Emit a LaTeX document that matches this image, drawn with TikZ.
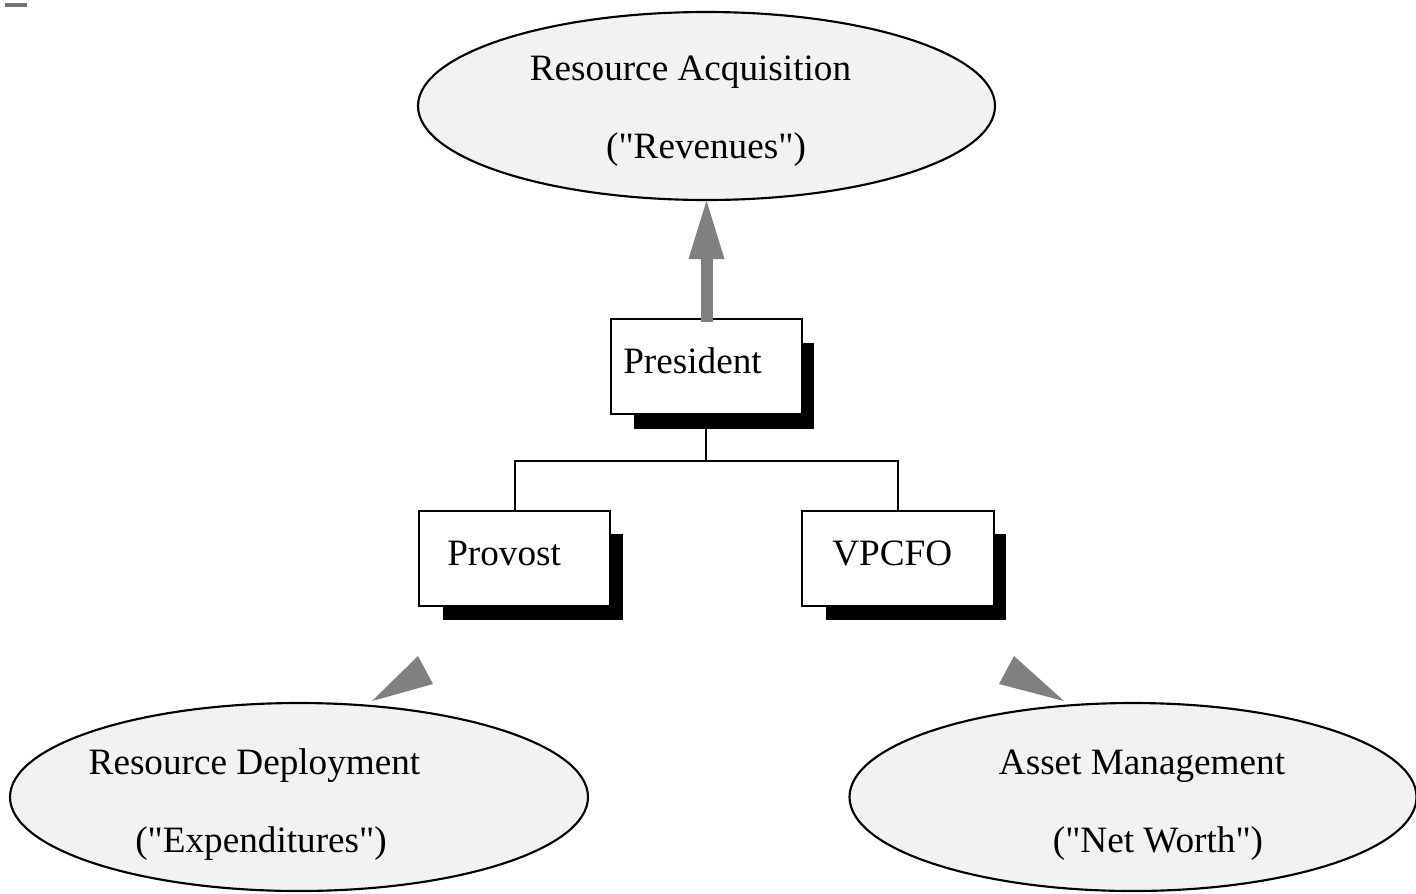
\documentclass[tikz,border=0pt]{standalone}
\usepackage{fontspec}
\setmainfont{Liberation Serif}
\usetikzlibrary{shapes.geometric,arrows.meta}
\begin{document}
\begin{tikzpicture}[x=0.75pt,y=-0.75pt,
  oval/.style={ellipse,draw,line width=1.6pt,fill=black!5,inner sep=0pt},
  box/.style={rectangle,draw,line width=1.5pt,fill=white,inner sep=0pt},
  shadowbox/.style={rectangle,fill=black,inner sep=0pt},
  lbl/.style={anchor=base,inner sep=0pt,font=\fontsize{27.9}{33}\selectfont},
  lblw/.style={anchor=base west,inner sep=0pt,font=\fontsize{27.9}{33}\selectfont},
  tree/.style={line width=1.5pt},
  bigarrow/.style={draw=black!50,line width=9pt,-{Triangle[length=46.5pt,width=24pt]}},
  pointer/.style={fill=black!50}]
\useasboundingbox (0,0) rectangle (1416,893);
\fill[black!55] (5,3) rectangle (27,7);
% ellipses
\node[oval,minimum width=432.75pt,minimum height=141pt] (acq) at (706.5,106) {};
\node[oval,minimum width=433.5pt,minimum height=141pt] (dep) at (299,797) {};
\node[oval,minimum width=425.25pt,minimum height=141pt] (asset) at (1133,797) {};
\node[lbl] (acqA) at (690.5,80) {Resource Acquisition};
\node[lbl] (acqB) at (706,158) {(\textquotedbl Revenues\textquotedbl)};
\node[lbl] (depA) at (254.5,774) {Resource Deployment};
\node[lbl] (depB) at (261,852) {(\textquotedbl Expenditures\textquotedbl)};
\node[lbl] (assetA) at (1142,774) {Asset Management};
\node[lbl] (assetB) at (1158,852) {(\textquotedbl Net Worth\textquotedbl)};
% shadows
\node[shadowbox,minimum width=135pt,minimum height=64.5pt] (presS) at (724,386) {};
\node[shadowbox,minimum width=135pt,minimum height=64.5pt] (provS) at (533,577) {};
\node[shadowbox,minimum width=135pt,minimum height=64.5pt] (vpS) at (916,577) {};
% boxes
\node[box,minimum width=143.25pt,minimum height=71.25pt] (pres) at (706.5,366.5) {};
\node[box,minimum width=143.25pt,minimum height=71.25pt] (prov) at (514.5,558.5) {};
\node[box,minimum width=144pt,minimum height=71.25pt] (vp) at (898,558.5) {};
\node[lblw] (presT) at (623,373) {President};
\node[lblw] (provT) at (447,565) {Provost};
\node[lblw] (vpT) at (832,565) {VPCFO};
% tree connectors
\coordinate (junc) at (706,461);
\draw[tree] (pres.south -| junc) -- (junc);
\draw[tree] (junc) -| (prov.north);
\draw[tree] (junc) -| (vp.north);
% arrow to top ellipse
\draw[bigarrow] ([yshift=-3pt]pres.north) -- ([yshift=3pt]acq.south);
% pointers
\fill[pointer] (418,656) -- (433,684) -- (372,701) -- cycle;
\fill[pointer] (1014,656) -- (999,684) -- (1064,701) -- cycle;
\end{tikzpicture}
\end{document}
